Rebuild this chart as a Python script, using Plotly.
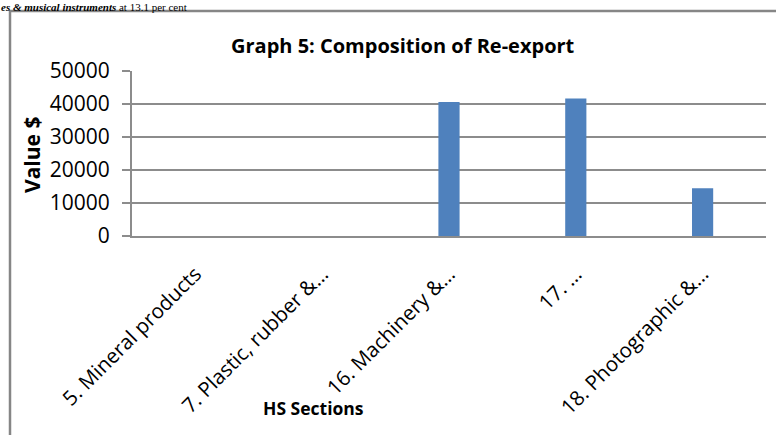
import plotly.graph_objects as go

categories = ["5. Mineral products", "7. Plastic, rubber &…", "16. Machinery &…", "17. …", "18. Photographic &…"]
values = [0, 0, 40600, 41700, 14500]
y_ticks = [0, 10000, 20000, 30000, 40000, 50000]

W, H = 776, 435
L, R, T, B = 132, 10, 71, 199
PW = W - L - R
PH = H - T - B

def px(x):
    return (x - L) / PW

def py(y):
    return (H - B - y) / PH

FONT = "Open Sans"
GRID = "#8c8c8c"

fig = go.Figure(go.Bar(x=categories, y=values, marker=dict(color="#4F81BD", line=dict(width=0)), width=0.167))

fig.update_layout(
    width=W, height=H,
    margin=dict(l=L, r=R, t=T, b=B, autoexpand=False),
    paper_bgcolor="white", plot_bgcolor="white",
    showlegend=False,
    font=dict(family=FONT, color="black"),
    xaxis=dict(
        type="category", tickangle=-45, tickfont=dict(size=20.5, family=FONT),
        showline=True, linecolor=GRID, linewidth=2, ticks="", showgrid=False,
        ticklabelstandoff=16, automargin=False,
    ),
    yaxis=dict(
        range=[0, 50000], tickvals=y_ticks, ticktext=[str(v) for v in y_ticks],
        tickfont=dict(size=21, family=FONT), showline=True, linecolor=GRID, linewidth=2,
        ticks="outside", ticklen=8, tickcolor=GRID, tickwidth=2,
        showgrid=True, gridcolor=GRID, gridwidth=2, zeroline=False,
        ticklabelstandoff=8, automargin=False,
    ),
    shapes=[dict(type="rect", xref="paper", yref="paper",
                 x0=px(10), x1=px(800), y0=py(460), y1=py(11),
                 line=dict(color="#868686", width=2.5), fillcolor="rgba(0,0,0,0)", layer="below")],
    annotations=[
        dict(text="<b>Graph 5: Composition of Re-export</b>", xref="paper", yref="paper",
             x=px(403), y=py(46), xanchor="center", yanchor="middle",
             showarrow=False, font=dict(size=20, family=FONT)),
        dict(text="<b>Value $</b>", xref="paper", yref="paper", textangle=-90,
             x=px(32), y=py(155), xanchor="center", yanchor="middle",
             showarrow=False, font=dict(size=21, family=FONT)),
        dict(text="<b>HS Sections</b>", xref="paper", yref="paper",
             x=px(313), y=py(408), xanchor="center", yanchor="middle",
             showarrow=False, font=dict(size=17.5, family=FONT)),
        dict(text="<b><i>es &amp; musical instruments</i></b> at 13.1 per cent", xref="paper", yref="paper",
             x=px(0), y=py(0), xanchor="left", yanchor="top", showarrow=False,
             font=dict(size=11, family="Liberation Serif"), borderpad=0),
    ],
)

fig.write_html("out.html", config={"displayModeBar": False},
               post_script="document.body.style.margin='0';")
